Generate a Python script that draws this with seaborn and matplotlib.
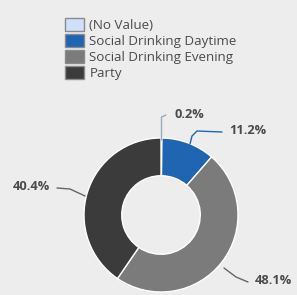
import matplotlib
matplotlib.use("Agg")
import matplotlib.pyplot as plt
import seaborn as sns
import numpy as np

categories = ["(No Value)", "Social Drinking Daytime", "Social Drinking Evening", "Party"]
values = [0.2, 11.2, 48.1, 40.4]
label_texts = ["0.2%", "11.2%", "48.1%", "40.4%"]
colors = ["#cfe0fb", "#1f65b2", "#7b7b7b", "#3b3b3b"]

sns.set_theme(style="white")
plt.rcParams["font.family"] = ["Open Sans", "DejaVu Sans"]
BG = "#ededed"

W, H = 297, 295
fig = plt.figure(figsize=(W / 100, H / 100), dpi=100, facecolor=BG)
ax = fig.add_axes([0, 0, 1, 1])
ax.set_facecolor(BG)

cx, cy, R = 161, 215, 77  # pixel centre & radius

wedges, _ = ax.pie(values, colors=colors, startangle=90, counterclock=False,
                   radius=1.0, wedgeprops=dict(width=0.49, edgecolor="white", linewidth=1.0),
                   labels=None)
for w, c in zip(wedges, categories):
    w.set_label(c)

ax.set_aspect("auto")
ax.set_xlim(-cx / R, (W - cx) / R)
ax.set_ylim(-(H - cy) / R, cy / R)
ax.axis("off")

def px(x, y):
    return ((x - cx) / R, (cy - y) / R)

# label placements (pixel positions) and leader lines
lab_cfg = {
    "0.2%": dict(text=(174, 114), ha="left", line=[(161.5, 140), (161.5, 117), (166, 115)], lc="#9aa9bd"),
    "11.2%": dict(text=(229, 130), ha="left", line=[(190, 144), (192, 136), (197, 131), (222, 132)], lc="#1f65b2"),
    "48.1%": dict(text=(255, 281), ha="left", line=[(224, 268), (236, 277), (248, 282)], lc="#666666"),
    "40.4%": dict(text=(50, 186), ha="right", line=[(85, 196), (70, 189), (57, 188)], lc="#666666"),
}
for t in label_texts:
    cfg = lab_cfg[t]
    pts = np.array([px(*p) for p in cfg["line"]])
    ax.plot(pts[:, 0], pts[:, 1], color=cfg["lc"], lw=1.0, solid_capstyle="round")
    tx, ty = px(*cfg["text"])
    ax.text(tx, ty, t, ha=cfg["ha"], va="center", fontsize=9.2, fontweight="bold", color="#4a4a4a")

leg = fig.legend(handles=wedges, labels=categories, loc="upper left",
                 bbox_to_anchor=(65 / W, 1 - 18 / H), frameon=False, fontsize=9.6,
                 handlelength=1.42, handleheight=1.12, handletextpad=0.4,
                 labelspacing=0.15, borderpad=0, borderaxespad=0)
for h in leg.legend_handles:
    h.set_edgecolor("#8a8a8a")
    h.set_linewidth(1.0)
for txt in leg.get_texts():
    txt.set_color("#4a4a4a")

fig.savefig("out.png", dpi=100, facecolor=BG)
